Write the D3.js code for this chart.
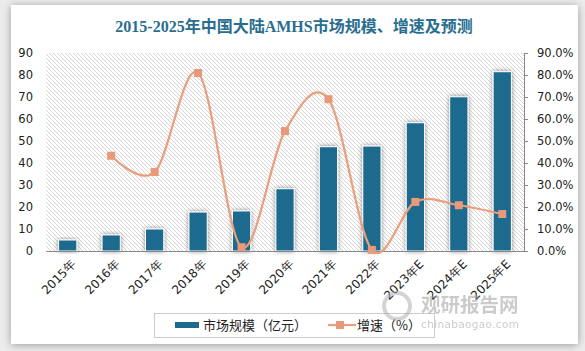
<!DOCTYPE html>
<html><head><meta charset="utf-8">
<script src="https://cdn.jsdelivr.net/npm/d3@7"></script>
<style>
html,body{margin:0;padding:0;background:#ececec;}
svg{display:block;}
</style></head>
<body>
<svg id="c" width="585" height="351"></svg>
<script>
const categories = ["2015年","2016年","2017年","2018年","2019年","2020年","2021年","2022年","2023年E","2024年E","2025年E"];
const marketSize = [5.0, 7.3, 10.0, 17.7, 18.2, 28.3, 47.4, 47.7, 58.3, 70.1, 81.5];
const growth = [null, 43.3, 35.9, 80.9, 1.7, 54.5, 69.0, 0.5, 22.3, 20.8, 16.8];
const leftTicks = [0,10,20,30,40,50,60,70,80,90];
const rightTicks = [0,10,20,30,40,50,60,70,80,90];

const svg = d3.select("#c");
const defs = svg.append("defs");
const cardShadow = defs.append("filter").attr("id","cs").attr("x","-5%").attr("y","-5%").attr("width","110%").attr("height","110%");
cardShadow.append("feGaussianBlur").attr("in","SourceAlpha").attr("stdDeviation",4);
cardShadow.append("feOffset").attr("dx",0).attr("dy",1).attr("result","b");
cardShadow.append("feComponentTransfer").append("feFuncA").attr("type","linear").attr("slope",0.35);
const m1 = cardShadow.append("feMerge"); m1.append("feMergeNode"); m1.append("feMergeNode").attr("in","SourceGraphic");

const barShadow = defs.append("filter").attr("id","bs").attr("x","-60%").attr("y","-20%").attr("width","220%").attr("height","140%");
barShadow.append("feGaussianBlur").attr("in","SourceAlpha").attr("stdDeviation",2.5);
barShadow.append("feOffset").attr("dx",0).attr("dy",0).attr("result","b");
barShadow.append("feComponentTransfer").append("feFuncA").attr("type","linear").attr("slope",0.45);
const m2 = barShadow.append("feMerge"); m2.append("feMergeNode"); m2.append("feMergeNode").attr("in","SourceGraphic");

const pat = defs.append("pattern").attr("id","hatch").attr("patternUnits","userSpaceOnUse").attr("width",4).attr("height",4);
pat.append("rect").attr("width",4).attr("height",4).attr("fill","#ffffff");
pat.append("path").attr("d","M-1,-1 L5,5 M-1,3 L1,5 M3,-1 L5,1").attr("stroke","#d6d6d6").attr("stroke-width",1);

// card
svg.append("rect").attr("x",11).attr("y",5).attr("width",567).attr("height",339).attr("fill","#fff").attr("filter","url(#cs)");

// title
svg.append("text").attr("x",294).attr("y",32).attr("text-anchor","middle")
  .attr("font-family","'Liberation Serif', 'Noto Sans CJK SC', serif").attr("font-weight","bold").attr("font-size",16)
  .attr("fill","#2a6e8f").text("2015-2025年中国大陆AMHS市场规模、增速及预测");

const L = 46, R = 524, T = 53, B = 251;
const x = d3.scaleBand().domain(categories).range([L,R]).paddingInner(0.58).paddingOuter(0.29);
const yL = d3.scaleLinear().domain([0,90]).range([B,T]);
const yR = d3.scaleLinear().domain([0,90]).range([B,T]);

svg.append("rect").attr("x",L).attr("y",T).attr("width",R-L).attr("height",B-T).attr("fill","url(#hatch)");

// bars
svg.append("g").selectAll("rect").data(marketSize).join("rect")
  .attr("x",(d,i)=>x(categories[i])).attr("width",x.bandwidth())
  .attr("y",d=>yL(d)).attr("height",d=>B-yL(d))
  .attr("fill","#1d6a8e").attr("stroke","#fff").attr("stroke-width",1).attr("filter","url(#bs)");

// left axis
const gl = svg.append("g").attr("transform",`translate(${L},0)`)
  .call(d3.axisLeft(yL).tickValues(leftTicks).tickSize(0).tickPadding(13));
gl.select(".domain").remove();
gl.selectAll("text").attr("font-family","'DejaVu Sans', sans-serif").attr("font-size",11.5).attr("fill","#222");

// right axis
const gr = svg.append("g").attr("transform",`translate(${R},0)`)
  .call(d3.axisRight(yR).tickValues(rightTicks).tickSize(4).tickSizeOuter(0).tickPadding(9).tickFormat(d=>d.toFixed(1)+"%"));
gr.select(".domain").attr("stroke","#888");
gr.selectAll("line").attr("stroke","#888");
gr.selectAll("text").attr("font-family","'DejaVu Sans', sans-serif").attr("font-size",11.5).attr("fill","#222");

// bottom axis
const gb = svg.append("g").attr("transform",`translate(0,${B})`)
  .call(d3.axisBottom(x).tickSize(0).tickPadding(0));
gb.select(".domain").attr("stroke","#888").attr("stroke-width",1.2);
gb.selectAll("text").attr("font-family","'DejaVu Sans', sans-serif").attr("font-size",12).attr("fill","#222")
  .attr("text-anchor","end").attr("x",0).attr("y",0).attr("dy","0")
  .attr("transform","translate(9,14) rotate(-45)");

// line
const pts = growth.map((g,i)=>({c:categories[i],g})).filter(d=>d.g!==null);
const line = d3.line().x(d=>x(d.c)+x.bandwidth()/2).y(d=>yR(d.g)).curve(d3.curveCatmullRom.alpha(0));
svg.append("path").datum(pts).attr("d",line).attr("fill","none").attr("stroke","#e99f7d").attr("stroke-width",2.2);
svg.append("g").selectAll("rect").data(pts).join("rect")
  .attr("x",d=>x(d.c)+x.bandwidth()/2-4).attr("y",d=>yR(d.g)-4).attr("width",8).attr("height",8)
  .attr("fill","#e8997a");

// legend
svg.append("rect").attr("x",154.5).attr("y",313.5).attr("width",280).attr("height",24).attr("fill","#fff").attr("stroke","#ccc");
svg.append("rect").attr("x",175).attr("y",322).attr("width",24).attr("height",6).attr("fill","#1d6a8e");
svg.append("text").attr("x",203).attr("y",330).attr("font-family","'Noto Sans CJK SC', sans-serif").attr("font-size",13)
  .attr("fill","#222").text("市场规模（亿元）");
svg.append("line").attr("x1",328).attr("x2",356).attr("y1",325).attr("y2",325).attr("stroke","#e99f7d").attr("stroke-width",2.2);
svg.append("rect").attr("x",336).attr("y",321).attr("width",8).attr("height",8).attr("fill","#e8997a");
svg.append("text").attr("x",357).attr("y",330).attr("font-family","'Noto Sans CJK SC', sans-serif").attr("font-size",13)
  .attr("fill","#222").text("增速（%）");

// watermark
const wm = svg.append("g").attr("opacity",0.5);
wm.append("circle").attr("cx",397).attr("cy",306).attr("r",13).attr("fill","none").attr("stroke","#aaa").attr("stroke-width",4);
wm.append("text").attr("x",421).attr("y",312).attr("font-family","'Noto Sans CJK SC', sans-serif").attr("font-weight","bold")
  .attr("font-size",19.5).attr("fill","#999").text("观研报告网");
wm.append("text").attr("x",421).attr("y",328).attr("font-family","'DejaVu Sans', sans-serif")
  .attr("font-size",10.5).attr("fill","#999").attr("textLength",98).text("chinabaogao.com");
</script>
</body></html>
